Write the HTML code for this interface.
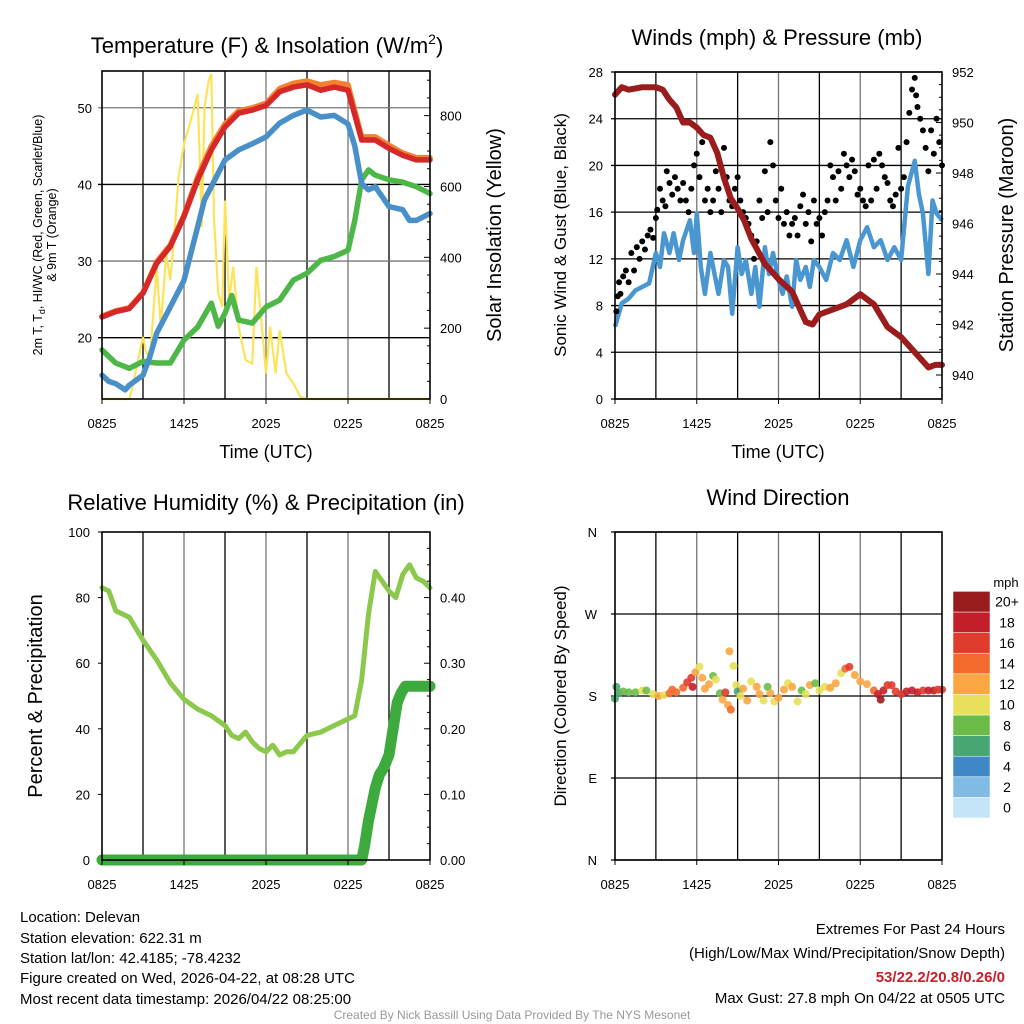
<!DOCTYPE html>
<html><head><meta charset="utf-8"><style>
html,body{margin:0;padding:0;background:#fff;}
svg{display:block;font-family:"Liberation Sans",sans-serif;}
</style></head><body>
<svg id="s" width="1024" height="1024" viewBox="0 0 1024 1024">
<rect width="1024" height="1024" fill="#fff"/>
<g fill="#000" text-anchor="middle">
<text x="267" y="53" font-size="22">Temperature (F) &amp; Insolation (W/m<tspan dy="-9" font-size="14">2</tspan><tspan dy="9">)</tspan></text>
<text x="777" y="45" font-size="22">Winds (mph) &amp; Pressure (mb)</text>
<text x="266" y="510" font-size="22">Relative Humidity (%) &amp; Precipitation (in)</text>
<text x="778" y="505" font-size="22">Wind Direction</text>
<text x="266" y="458" font-size="18">Time (UTC)</text>
<text x="778" y="458" font-size="18">Time (UTC)</text>
<text transform="translate(42,235) rotate(-90)" font-size="12.5">2m T, T<tspan dy="3" font-size="9">d</tspan><tspan dy="-3">, HI/WC (Red, Green, Scarlet/Blue)</tspan></text>
<text transform="translate(56,235) rotate(-90)" font-size="12.5">&amp; 9m T (Orange)</text>
<text transform="translate(501,235) rotate(-90)" font-size="20">Solar Insolation (Yellow)</text>
<text transform="translate(566,235) rotate(-90)" font-size="17">Sonic Wind &amp; Gust (Blue, Black)</text>
<text transform="translate(1013,235) rotate(-90)" font-size="20">Station Pressure (Maroon)</text>
<text transform="translate(42,696) rotate(-90)" font-size="20">Percent &amp; Precipitation</text>
<text transform="translate(566,696) rotate(-90)" font-size="17">Direction (Colored By Speed)</text>
</g>
<g font-size="15" fill="#000">
<text x="20" y="922">Location: Delevan</text>
<text x="20" y="943">Station elevation: 622.31 m</text>
<text x="20" y="963">Station lat/lon: 42.4185; -78.4232</text>
<text x="20" y="983">Figure created on Wed, 2026-04-22, at 08:28 UTC</text>
<text x="20" y="1004">Most recent data timestamp: 2026/04/22 08:25:00</text>
</g>
<g font-size="15" fill="#000" text-anchor="end">
<text x="1005" y="934">Extremes For Past 24 Hours</text>
<text x="1005" y="958">(High/Low/Max Wind/Precipitation/Snow Depth)</text>
<text x="1005" y="982" fill="#c8202a" font-weight="bold">53/22.2/20.8/0.26/0</text>
<text x="1005" y="1003">Max Gust: 27.8 mph On 04/22 at 0505 UTC</text>
</g>
<text x="512" y="1019" font-size="12" fill="#999" text-anchor="middle">Created By Nick Bassill Using Data Provided By The NYS Mesonet</text>
</svg>
<script>
// ---- data ----
const timeLabels=["0825","1425","2025","0225","0825"];
const tTemp=[0,1,2,3,4,5,6,7,8,9,10,11,12,13,14,15,16,17,18,19,20,21,22,23,24];
const tempRed=[22.7,23.4,23.8,25.8,29.7,31.9,35.8,40.6,44.5,47.5,49.3,49.7,50.3,52.1,52.7,53.0,52.3,52.7,52.3,45.8,45.8,44.7,43.8,43.2,43.2];
const tempOrange=[22.8,23.5,23.9,25.9,29.9,32.1,36.0,41.0,45.0,47.9,49.6,50.0,50.6,52.5,53.2,53.5,53.0,53.3,53.0,46.2,46.2,45.1,44.1,43.5,43.5];
const tDew=[0,0.5,1,1.7,2,3,3.5,4,5,6,7,7.5,8,9,10,11,12,13,14,15,16,17,18,18.5,19,19.5,20,21,22,22.5,23,24];
const dewBlue=[15.1,14.3,14.0,13.2,13.8,15.1,17.5,20.6,24.0,27.5,34.5,38.0,39.7,43.2,44.5,45.3,46.2,48.0,49.0,49.7,48.8,49.0,47.9,45.0,40.1,39.3,39.7,37.1,36.7,35.3,35.3,36.2];
const tGreen=[0,1,2,3,4,5,6,7,8,8.5,9,9.5,10,11,12,13,14,15,16,17,18,18.5,19,19.5,20,21,22,23,24];
const greenVals=[18.4,16.7,16.0,16.9,16.7,16.7,19.7,21.4,24.5,21.5,23.2,25.5,22.3,21.9,24.0,24.9,27.5,28.4,30.1,30.6,31.4,35.3,40.6,41.9,41.2,40.6,40.3,39.7,38.8];
const tSolar=[0,2,2.2,3,3.2,3.5,4,4.3,4.7,5,5.3,5.6,6,6.5,7,7.3,7.5,7.8,8,8.2,8.5,8.8,9,9.3,9.6,10,10.5,11,11.3,11.7,12,12.3,12.7,13,13.5,14,14.5,15,24];
const solar=[0,0,30,175,138,108,373,204,410,335,467,626,720,786,861,485,823,898,917,504,298,260,560,279,373,204,110,100,373,204,72,204,72,194,72,44,7,0,0];
const tWind=[0,0.5,1,1.5,2,2.5,3,3.3,3.6,4,4.3,4.7,5,5.5,5.8,6,6.3,6.6,7,7.3,7.6,8,8.3,8.6,9,9.3,9.6,10,10.3,10.6,11,11.3,11.6,12,12.3,12.6,13,13.3,13.6,14,14.3,14.6,15,15.5,16,16.5,17,17.5,18,18.5,19,19.5,20,20.5,21,21.5,22,22.3,22.6,23,23.3,23.6,24];
const windBlue=[6.2,8.2,8.6,9.3,9.6,9.9,12.5,11.3,14.2,12.5,14.2,11.9,13.6,15.3,12.5,15.9,11.3,9.0,12.5,10.7,9.0,11.9,11.3,7.3,13.0,10.7,11.9,9.0,11.3,7.9,13.0,10.7,12.5,10.2,9.0,10.5,7.9,11.9,10.2,11.3,9.6,11.9,11.3,10.2,12.5,11.9,13.6,11.3,13.6,14.7,13.0,13.6,11.9,13.0,11.9,18.2,20.4,17.6,15.9,10.7,17.0,15.9,15.3];
const tGust=[0.1,0.2,0.3,0.4,0.6,0.8,1.0,1.2,1.4,1.6,1.8,2.0,2.2,2.4,2.6,2.8,3.0,3.1,3.3,3.5,3.7,3.8,4.0,4.2,4.4,4.6,4.8,5.0,5.2,5.4,5.6,5.8,6.0,6.2,6.4,6.6,6.8,7.0,7.2,7.4,7.6,7.8,8.0,8.2,8.4,8.6,8.8,9.0,9.2,9.4,9.6,9.8,10.0,10.2,10.4,10.6,10.8,11.0,11.2,11.4,11.6,11.8,12.0,12.2,12.4,12.6,12.8,13.0,13.2,13.4,13.6,13.8,14.0,14.2,14.4,14.6,14.8,15.0,15.2,15.4,15.6,15.8,16.0,16.2,16.4,16.6,16.8,17.0,17.2,17.4,17.6,17.8,18.0,18.2,18.4,18.6,18.8,19.0,19.2,19.4,19.6,19.8,20.0,20.2,20.4,20.6,20.8,21.0,21.2,21.4,21.6,21.8,22.0,22.1,22.2,22.4,22.6,22.8,23.0,23.2,23.4,23.6,23.8,24.0];
const gust=[7.5,8.8,10,9,10.5,11,10,12.5,11,13,12,13.5,12.8,14,14.5,13.8,15.5,16.2,18,17,16.5,19.5,18.5,17.5,19,18,17,18.5,17,16,18,20,21,19,22,17,18,16,17,19.5,18,16,21.5,19,17,16.5,18,19,17,16,15.5,15,14,12,13.5,17,15.5,19.5,16,22,20,17,15.5,18,15,16,14,15,15.5,14,16.5,17.5,15,16,13.5,17,15,15.5,14,16,17,20,19,17,19.5,18,21,20,19,20.5,19.5,17.5,18,17,16.5,20,17,20.5,18,21,20,19,18.5,17,16.5,17.5,21.5,18,19,22,24.5,26.5,27.5,26,25,24,23,21.5,19.5,23,21,24,22,20];
const tPres=[0,0.5,1,2,3,3.5,4,4.5,5,5.5,6,6.5,7,7.5,8,8.5,9,9.5,10,11,12,13,14,14.5,15,16,17,18,18.5,19,20,21,22,23,23.5,24];
const pressure=[951.1,951.4,951.3,951.4,951.4,951.3,950.9,950.6,950.0,950.0,949.8,949.5,949.4,948.8,947.8,947.0,946.6,946.1,945.4,944.4,943.8,943.3,942.1,942.0,942.4,942.6,942.8,943.2,943.0,942.8,941.9,941.5,940.9,940.3,940.4,940.4];
const tRH=[0,0.5,1,2,3,4,5,6,7,8,9,9.5,10,10.5,11,11.5,12,12.5,13,13.5,14,15,16,17,18,18.5,19,19.5,20,20.5,21,21.5,22,22.5,23,23.5,24];
const rh=[83,82,76,74,67,61,54,49,46,44,41,38,37,39,36,34,33,35,32,33,33,38,39,41,43,44,55,75,88,85,82,80,87,90,86,85,83];
const tPrecip=[0,19,19.2,19.5,19.8,20,20.3,20.6,21,21.3,21.6,21.9,22.2,22.5,24];
const precip=[0,0,0.02,0.06,0.09,0.11,0.13,0.14,0.16,0.2,0.24,0.255,0.265,0.265,0.265];
const tDir=[0.0,0.1,0.3,0.6,1.0,1.5,2.0,2.3,2.8,3.2,3.6,4.0,4.2,4.5,5.0,5.3,5.6,5.7,5.9,6.2,6.4,6.6,6.9,7.2,7.4,7.7,7.9,8.1,8.3,8.4,8.5,8.7,8.9,9.0,9.2,9.4,9.7,10.0,10.4,10.6,10.9,11.2,11.4,11.7,12.0,12.4,12.7,13.0,13.4,13.7,14.0,14.3,14.7,15.0,15.4,15.8,16.2,16.6,16.9,17.2,17.6,18.0,18.5,19.0,19.3,19.5,19.7,20.0,20.3,20.6,21.0,21.4,21.8,22.2,22.6,23.0,23.4,23.7,24.0];
const dirVals=[177,190,183,185,184,184,186,186,182,180,181,183,187,184,189,195,200,190,206,212,200,188,193,202,198,183,176,184,170,229,165,213,192,185,180,188,175,196,190,182,175,190,183,174,178,187,194,190,174,186,182,192,194,186,190,189,194,205,210,212,203,196,193,186,182,176,186,192,192,185,182,185,186,184,186,186,186,187,187];
const dirSpeed=[6,6,7,8,8,9,10,8,10,12,11,14,15,14,15,16,16,18,12,10,12,12,13,8,11,8,12,16,13,13,14,10,11,6,10,12,12,10,12,13,11,8,12,10,12,12,10,12,10,8,10,12,9,10,11,12,12,10,15,16,13,12,13,15,18,20,18,17,17,16,17,18,18,18,17,18,18,16,16];
const speedBins=["0","2","4","6","8","10","12","14","16","18","20+"];
const binColors=["#c4e5f7","#7fbbe3","#3f87c6","#47a672","#6cbb48","#e8e05a","#f9a643","#f26a2d","#e03c2d","#c21f29","#981b1e"];

// ---- helpers ----
const S=document.getElementById('s');
const NS="http://www.w3.org/2000/svg";
function el(tag,attrs,parent){const e=document.createElementNS(NS,tag);for(const k in attrs)e.setAttribute(k,attrs[k]);(parent||S).appendChild(e);return e;}
function lin(d0,d1,r0,r1){return v=>r0+(v-d0)/(d1-d0)*(r1-r0);}
function pathOf(ts,vs,xf,yf){return ts.map((t,i)=>(i?'L':'M')+xf(t).toFixed(1)+','+yf(vs[i]).toFixed(1)).join('');}
function frame(x0,x1,y0,y1,name){
  const g=el('g',{});
  
  
  const xf=lin(0,24,x0,x1);
  for(let h=3;h<24;h+=3){el('line',{x1:xf(h),x2:xf(h),y1:y0,y2:y1,stroke:(h%6?'#000':'#777'),'stroke-width':1.3},g);}
  return {g,xf};
}
function xTicks(xf,y,g){timeLabels.forEach((l,i)=>{const x=xf(i*6);el('line',{x1:x,x2:x,y1:y,y2:y+5,stroke:'#000'},g);const t=el('text',{x:x,y:y+29,'font-size':13,'text-anchor':'middle'},g);t.textContent=l;});}
function border(x0,x1,y0,y1,g){el('rect',{x:x0,y:y0,width:x1-x0,height:y1-y0,fill:'none',stroke:'#000','stroke-width':1.6},g);}
function label(x,y,txt,anchor,g){const t=el('text',{x:x,y:y+5,'font-size':13,'text-anchor':anchor},g);t.textContent=txt;}

// ---- Panel 1 ----
(function(){
 const X0=102,X1=430,Y0=71,Y1=399;
 const {g,xf}=frame(X0,X1,Y0,Y1,'temp-panel');
 const yT=lin(12,54.8,Y1,Y0), yS=lin(0,926,Y1,Y0);
 [20,30,40,50].forEach(v=>{el('line',{x1:X0-4,x2:X1,y1:yT(v),y2:yT(v),stroke:(v%20?'#777':'#000'),'stroke-width':1.3},g);label(X0-10,yT(v),String(v),'end',g);});
 for(let v=0;v<=900;v+=50){el('line',{x1:X1,x2:X1-(v%200?3:6),y1:yS(v),y2:yS(v),stroke:'#000'},g);}
 [0,200,400,600,800].forEach(v=>label(X1+10,yS(v),String(v),'start',g));
 const s=el('path',{d:pathOf(tSolar,solar,xf,yS),fill:'none',stroke:'#fde35a','stroke-width':2.2},g);
 
 
 const gr=el('path',{d:pathOf(tGreen,greenVals,xf,yT),fill:'none',stroke:'#4db848','stroke-width':5.5,'stroke-linejoin':'round','stroke-linecap':'round'},g);
 
 
 const bl=el('path',{d:pathOf(tDew,dewBlue,xf,yT),fill:'none',stroke:'#4a90c8','stroke-width':5.5,'stroke-linejoin':'round','stroke-linecap':'round'},g);
 
 
 const or=el('path',{d:pathOf(tTemp,tempOrange,xf,yT),fill:'none',stroke:'#f4812f','stroke-width':5.5,'stroke-linejoin':'round','stroke-linecap':'round'},g);
 
 
 const rd=el('path',{d:pathOf(tTemp,tempRed,xf,yT),fill:'none',stroke:'#d62828','stroke-width':5.5,'stroke-linejoin':'round','stroke-linecap':'round'},g);
 
 
 border(X0,X1,Y0,Y1,g); xTicks(xf,Y1,g);
})();

// ---- Panel 2 ----
(function(){
 const X0=615,X1=942,Y0=72,Y1=399;
 const {g,xf}=frame(X0,X1,Y0,Y1,'wind-panel');
 const yW=lin(0,28,Y1,Y0), yP=lin(939.05,952,Y1,Y0);
 [0,4,8,12,16,20,24,28].forEach(v=>{el('line',{x1:X0-4,x2:X1,y1:yW(v),y2:yW(v),stroke:'#000','stroke-width':1.3},g);label(X0-12,yW(v),String(v),'end',g);});
 for(let v=939.5;v<=952;v+=0.5){el('line',{x1:X1,x2:X1-(v%2?3:6),y1:yP(v),y2:yP(v),stroke:'#000'},g);}
 [940,942,944,946,948,950,952].forEach(v=>label(X1+10,yP(v),String(v),'start',g));
 const bl=el('path',{d:pathOf(tWind,windBlue,xf,yW),fill:'none',stroke:'#4a96d0','stroke-width':4.5,'stroke-linejoin':'round'},g);
 
 
 tGust.forEach((t,i)=>{const c=el('circle',{cx:xf(t),cy:yW(gust[i]),r:3,fill:'#000'},g);
  
  });
 const pr=el('path',{d:pathOf(tPres,pressure,xf,yP),fill:'none',stroke:'#9b1c1c','stroke-width':6,'stroke-linejoin':'round','stroke-linecap':'round'},g);
 
 
 border(X0,X1,Y0,Y1,g); xTicks(xf,Y1,g);
})();

// ---- Panel 3 ----
(function(){
 const X0=102,X1=430,Y0=532,Y1=860;
 const {g,xf}=frame(X0,X1,Y0,Y1,'rh-panel');
 const yR=lin(0,100,Y1,Y0), yPr=lin(0,0.5,Y1,Y0);
 [0,20,40,60,80,100].forEach(v=>{el('line',{x1:X0-4,x2:X0,y1:yR(v),y2:yR(v),stroke:'#000'},g);label(X0-12,yR(v),String(v),'end',g);});
 for(let v=0;v<=0.5;v+=0.025){el('line',{x1:X1,x2:X1-(Math.round(v*1000)%100?3:6),y1:yPr(v),y2:yPr(v),stroke:'#000'},g);}
 ["0.00","0.10","0.20","0.30","0.40"].forEach(s=>label(X1+10,yPr(+s),s,'start',g));
 const r=el('path',{d:pathOf(tRH,rh,xf,yR),fill:'none',stroke:'#8cc84b','stroke-width':5,'stroke-linejoin':'round','stroke-linecap':'round'},g);
 
 
 const p=el('path',{d:pathOf(tPrecip,precip,xf,yPr),fill:'none',stroke:'#3daa3d','stroke-width':11,'stroke-linejoin':'round','stroke-linecap':'round'},g);
 
 
 border(X0,X1,Y0,Y1,g); xTicks(xf,Y1,g);
})();

// ---- Panel 4 ----
(function(){
 const X0=615,X1=942,Y0=532,Y1=860;
 const {g,xf}=frame(X0,X1,Y0,Y1,'wdir-panel');
 const yD=lin(0,360,Y1,Y0);
 [[0,'N'],[90,'E'],[180,'S'],[270,'W'],[360,'N']].forEach(([v,l])=>{el('line',{x1:X0-4,x2:X1,y1:yD(v),y2:yD(v),stroke:'#000','stroke-width':1.3},g);label(X0-18,yD(v),l,'end',g);});
 tDir.forEach((t,i)=>{const sp=dirSpeed[i];const b=Math.min(10,Math.floor(sp/2));
  const c=el('circle',{cx:xf(t),cy:yD(dirVals[i]),r:4,fill:binColors[b],'fill-opacity':0.9},g);
  
  });
 border(X0,X1,Y0,Y1,g); xTicks(xf,Y1,g);
 const lg=el('g',{},S);
 
 
 const t=el('text',{x:1006,y:587,'font-size':13,'text-anchor':'middle'},lg);t.textContent='mph';
 const bh=20.6;
 speedBins.forEach((l,i)=>{const yy=818-(i+1)*bh;
  el('rect',{x:953,y:yy,width:37,height:bh,fill:binColors[i],stroke:'#fff','stroke-width':0.5},lg);
  const tt=el('text',{x:1007,y:yy+bh/2+5,'font-size':14,'text-anchor':'middle'},lg);tt.textContent=l;});
})();
</script>
</body></html>
